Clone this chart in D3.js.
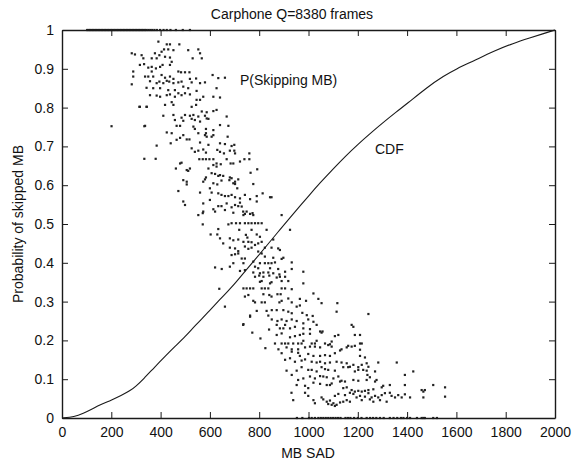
<!DOCTYPE html>
<html>
<head>
<meta charset="utf-8">
<script src="https://cdn.jsdelivr.net/npm/d3@7"></script>
<style>
  html, body { margin: 0; padding: 0; background: #fff; }
  svg { display: block; }
  text { font-family: "Liberation Sans", Arial, Helvetica, sans-serif; fill: #111; }
</style>
</head>
<body>
<svg id="chart" width="581" height="462"></svg>
<script>
// ---------- data ----------
const title = "Carphone Q=8380 frames";
const xLabel = "MB SAD";
const yLabel = "Probability of skipped MB";
const xTicks = [0, 200, 400, 600, 800, 1000, 1200, 1400, 1600, 1800, 2000];
const yTicks = [0, 0.1, 0.2, 0.3, 0.4, 0.5, 0.6, 0.7, 0.8, 0.9, 1];

// CDF curve
const cdfSad  = [0, 50, 87, 120, 154, 200, 240, 276, 300, 330, 377, 420, 458, 500, 540, 600, 641, 682, 702, 740, 783, 830, 877, 925, 970, 1000, 1047, 1100, 1150, 1200, 1250, 1300, 1358, 1400, 1480, 1550, 1600, 1669, 1750, 1831, 1900, 1950, 2000];
const cdfProb = [0, 0.003, 0.012, 0.022, 0.034, 0.046, 0.058, 0.07, 0.082, 0.1, 0.132, 0.16, 0.184, 0.21, 0.238, 0.277, 0.306, 0.333, 0.347, 0.376, 0.408, 0.444, 0.48, 0.516, 0.55, 0.572, 0.606, 0.642, 0.675, 0.705, 0.733, 0.76, 0.79, 0.81, 0.852, 0.882, 0.9, 0.92, 0.945, 0.966, 0.98, 0.99, 1.0];

// P(Skipping MB) samples [MB SAD, probability]
const skipPoints = [
[391,0.97],[425,0.963],[438,0.963],[476,0.963],[414,0.95],[431,0.95],[452,0.948],
[283,0.94],[296,0.937],[323,0.935],[377,0.94],[395,0.935],[404,0.944],[418,0.931],
[512,0.948],[553,0.95],[560,0.94],
[330,0.927],[364,0.927],[384,0.927],[438,0.929],[445,0.918],[530,0.927],[567,0.927],
[316,0.91],[333,0.912],[350,0.903],[364,0.905],[381,0.901],[398,0.905],[408,0.91],[438,0.91],
[289,0.893],[289,0.88],[283,0.86],
[337,0.88],[350,0.88],[364,0.893],[370,0.88],[404,0.884],[418,0.877],[438,0.88],[452,0.874],[472,0.893],[483,0.891],[499,0.891],[517,0.891],
[357,0.868],[384,0.863],[395,0.867],[411,0.863],[425,0.869],[435,0.867],[452,0.863],[472,0.865],[485,0.867],[519,0.874],[526,0.865],[544,0.875],
[560,0.863],[580,0.865],[611,0.884],[634,0.876],[661,0.877],
[343,0.851],[370,0.85],[398,0.85],[431,0.845],[458,0.845],[492,0.854],[512,0.85],[546,0.843],[627,0.85],
[357,0.832],[384,0.831],[398,0.828],[425,0.832],[438,0.834],[458,0.828],[472,0.837],[485,0.832],[499,0.837],[519,0.834],[546,0.82],[560,0.82],[573,0.828],[614,0.828],[641,0.826],
[316,0.802],[343,0.802],[418,0.807],[445,0.814],[452,0.807],
[526,0.802],[544,0.807],[567,0.79],[587,0.788],[614,0.791],[627,0.794],
[411,0.779],[452,0.781],[485,0.774],[499,0.781],[519,0.779],[533,0.781],[553,0.777],[580,0.779],[587,0.772],
[458,0.768],[492,0.766],[526,0.771],[539,0.768],[560,0.764],[594,0.771],[668,0.777],
[337,0.753],[465,0.753],[479,0.753],[533,0.751],[539,0.745],[584,0.745],[641,0.755],[675,0.753],
[425,0.736],[445,0.734],[553,0.734],[584,0.734],[614,0.742],[201,0.752],[334,0.752],[314,0.802],[344,0.802],[384,0.702],[334,0.668],[380,0.668],
[492,0.729],[506,0.718],[517,0.718],[580,0.729],[587,0.725],[607,0.725],[614,0.729],[672,0.725],
[560,0.71],[594,0.704],[641,0.708],[661,0.706],[688,0.701],[699,0.704],
[526,0.695],[539,0.686],[553,0.689],[573,0.692],[584,0.684],[630,0.691],[641,0.686],[657,0.682],[681,0.689],[699,0.689],[702,0.682],[760,0.682],
[557,0.667],[571,0.667],[584,0.667],[598,0.667],[614,0.667],[627,0.656],[644,0.654],[668,0.667],[684,0.656],[695,0.656],[722,0.661],[740,0.667],[760,0.667],
[479,0.656],[485,0.658],
[506,0.639],[512,0.637],[519,0.643],[594,0.643],[614,0.652],[627,0.648],
[607,0.631],[621,0.629],[634,0.624],[641,0.626],[654,0.624],[681,0.62],[702,0.609],[715,0.615],[765,0.632],[792,0.641],
[492,0.613],[506,0.609],[506,0.602],[573,0.609],[580,0.615],[584,0.62],[614,0.605],[630,0.602],[647,0.612],[679,0.613],[688,0.618],[695,0.605],[702,0.603],[711,0.592],[776,0.603],
[560,0.581],[607,0.581],[600,0.592],[634,0.579],[647,0.575],[661,0.572],[675,0.572],[688,0.575],[702,0.569],[722,0.566],[742,0.575],[763,0.564],[790,0.572],[814,0.579],[850,0.569],
[492,0.558],[499,0.549],[573,0.553],[600,0.562],[634,0.546],[647,0.546],[668,0.553],[688,0.543],[702,0.549],[715,0.546],[722,0.555],[729,0.545],[790,0.558],[844,0.569],
[573,0.532],[614,0.538],[621,0.532],[661,0.536],[695,0.529],[735,0.532],[742,0.526],[749,0.532],[763,0.526],[773,0.528],
[479,0.722],[465,0.717],[441,0.708],[462,0.643],[472,0.585],
[553,0.523],[571,0.528],[571,0.499],[675,0.499],[603,0.473],[634,0.487],[630,0.473],[641,0.463],[654,0.45],[681,0.463],[621,0.388],[648,0.384],[638,0.333],
[661,0.287],[735,0.24],[772,0.22],[763,0.261],
[736,0.523],[776,0.523],[891,0.523],
[688,0.502],[706,0.502],[722,0.502],[742,0.502],[756,0.502],[769,0.502],[783,0.502],[796,0.502],[810,0.502],
[719,0.485],[769,0.485],[830,0.485],[925,0.485],
[746,0.472],[752,0.465],[790,0.473],[803,0.467],
[695,0.458],[715,0.46],[736,0.454],[756,0.454],[769,0.453],[783,0.446],[796,0.45],[810,0.454],[857,0.46],
[681,0.439],[702,0.437],[715,0.43],[742,0.442],[756,0.436],[769,0.439],[823,0.439],[850,0.439],[877,0.437],[884,0.433],
[688,0.42],[702,0.422],[715,0.424],[729,0.411],[742,0.411],[796,0.429],[810,0.424],[823,0.416],[857,0.413],[891,0.41],
[695,0.399],[736,0.399],[776,0.403],[803,0.399],[823,0.399],[837,0.399],[850,0.399],[864,0.401],[932,0.401],[898,0.413],
[681,0.39],[783,0.39],[796,0.386],[844,0.386],[877,0.384],[932,0.384],
[722,0.379],[742,0.381],[776,0.375],[803,0.373],[817,0.375],[837,0.375],[857,0.373],[882,0.37],[905,0.377],[979,0.377],
[783,0.364],[800,0.367],[817,0.364],[841,0.367],[871,0.362],[884,0.364],[905,0.364],
[803,0.351],[810,0.353],[844,0.347],[850,0.35],[891,0.353],[918,0.353],[979,0.347],
[736,0.334],[749,0.334],[763,0.334],[776,0.334],[810,0.334],[823,0.334],[837,0.334],[891,0.334],[905,0.334],[932,0.332],
[742,0.313],[756,0.317],[817,0.319],[841,0.317],[850,0.313],[874,0.319],[887,0.319],[918,0.308],[965,0.307],[1020,0.321],
[776,0.302],[783,0.298],[810,0.298],[823,0.298],[882,0.298],[891,0.302],[932,0.298],[952,0.287],[965,0.29],[990,0.302],[1040,0.307],[1053,0.296],[1117,0.296],
[790,0.276],[830,0.276],[763,0.264],[837,0.264],[736,0.242],[805,0.205],[825,0.18],[840,0.228],
[851,0.278],[871,0.278],[898,0.278],[918,0.274],[932,0.27],[975,0.271],[993,0.265],[1017,0.263],[1114,0.274],[1243,0.268],
[851,0.254],[874,0.25],[891,0.254],[911,0.25],[932,0.254],[952,0.25],[979,0.244],[999,0.254],[1020,0.248],[1175,0.24],[1182,0.235],
[871,0.24],[884,0.231],[898,0.231],[905,0.24],[925,0.231],[945,0.235],[979,0.231],[1033,0.24],[1053,0.22],[1006,0.229],
[871,0.214],[891,0.218],[925,0.208],[945,0.211],[965,0.214],[979,0.217],[1006,0.217],[1047,0.223],[1057,0.223],[1107,0.211],[1121,0.214],[1188,0.214],[1209,0.214],
[864,0.192],[891,0.192],[905,0.192],[918,0.192],[938,0.192],[958,0.192],[972,0.192],[979,0.199],[1013,0.192],[1026,0.192],[1033,0.199],[1067,0.192],[1087,0.19],[1094,0.197],[1161,0.186],[1188,0.186],[1209,0.192],[1216,0.192],
[878,0.177],[911,0.182],[932,0.177],[958,0.177],[986,0.182],[1006,0.184],[1026,0.184],[1047,0.182],[1080,0.188],[1094,0.184],[1134,0.177],[1155,0.182],[1175,0.184],[1209,0.176],
[891,0.167],[932,0.171],[958,0.168],[965,0.16],[999,0.165],[1020,0.16],[1047,0.16],[1067,0.162],[1087,0.16],[1107,0.167],[1128,0.174],[1209,0.16],[1229,0.156],[1283,0.143],[1358,0.143],
[905,0.15],[925,0.154],[945,0.145],[972,0.148],[986,0.151],[1013,0.145],[1033,0.143],[1047,0.145],[1067,0.141],[1087,0.143],[1114,0.145],[1134,0.143],[1155,0.141],[1168,0.132],[1182,0.137],[1202,0.131],[1216,0.137],[1236,0.141],[1243,0.132],
[911,0.122],[932,0.111],[952,0.122],[972,0.131],[999,0.124],[1013,0.124],[1033,0.12],[1053,0.131],[1067,0.126],[1080,0.124],[1107,0.122],[1141,0.131],[1161,0.131],[1188,0.12],[1202,0.124],[1222,0.124],[1236,0.122],[1239,0.111],[1270,0.12],
[958,0.098],[979,0.102],[1006,0.107],[1026,0.102],[1047,0.108],[1060,0.107],[1074,0.105],[1101,0.102],[1121,0.107],[1134,0.096],[1148,0.094],[1182,0.098],[1202,0.096],[1236,0.098],[1249,0.105],[1276,0.098],[1391,0.111],[1425,0.12],
[952,0.085],[986,0.083],[999,0.077],[1020,0.091],[1047,0.088],[1074,0.085],[1087,0.085],[1094,0.089],[1128,0.094],[1141,0.077],[1155,0.079],[1175,0.072],[1188,0.068],[1202,0.07],[1216,0.068],[1229,0.07],[1243,0.072],[1263,0.074],[1270,0.094],[1297,0.079],[1303,0.083],[1330,0.085],[1391,0.085],
[931,0.065],[986,0.065],[999,0.057],[1053,0.053],[1107,0.057],[1121,0.062],[1148,0.059],[1168,0.065],[1182,0.062],[1195,0.053],[1209,0.057],[1229,0.055],[1243,0.064],[1256,0.053],[1270,0.057],[1283,0.053],[1297,0.059],[1310,0.064],[1330,0.065],[1337,0.057],[1351,0.053],[1364,0.059],[1378,0.053],[1391,0.061],[1412,0.053],[1459,0.072],[1466,0.068],[1472,0.072],[1506,0.085],[1554,0.079],[1466,0.053],[1554,0.055],
[938,0.046],[1020,0.046],[1060,0.048],[1074,0.042],[1087,0.045],[1101,0.038],[1114,0.034],[1128,0.04],[1141,0.042],[1155,0.046],[1168,0.042],[1216,0.046],[1249,0.048],[1263,0.042],[1290,0.046],[1317,0.042],
[1026,0.038],[1080,0.036],[1094,0.034],[1107,0.031]
];
// samples lying on p = 1 and p = 0
const skipAllSad  = [102,108,114,120,126,132,138,144,150,156,162,168,174,180,186,192,198,204,210,216,222,228,234,240,246,252,258,264,270,276,282,288,294,300,306,312,318,324,330,336,342,350,358,366,375,385,398,412,425,440,462,490,519];
const skipNoneSad = [953,975,1002,1013,1026,1040,1050,1060,1070,1080,1090,1100,1110,1120,1130,1150,1160,1170,1185,1200,1215,1236,1250,1262,1275,1290,1305,1330,1345,1360,1375,1385,1400,1412,1440,1459,1466,1472,1506,1521];

// ---------- chart ----------
const svg = d3.select("#chart");
const x = d3.scaleLinear().domain([0, 2000]).range([62, 555]);
const y = d3.scaleLinear().domain([0, 1]).range([418, 30]);
const ink = "#1a1a1a";
const tickLen = 6;

// scatter
const allPts = skipPoints
  .concat(skipAllSad.map(s => [s, 1]))
  .concat(skipNoneSad.map(s => [s, 0]));
svg.append("g").selectAll("rect").data(allPts).join("rect")
  .attr("x", d => x(d[0]) - 1.1)
  .attr("y", d => y(d[1]) - 1.1)
  .attr("width", 2.2).attr("height", 2.2)
  .attr("fill", "#222");

// CDF line
const cdfData = cdfSad.map((s, i) => [s, cdfProb[i]]);
svg.append("path").datum(cdfData)
  .attr("fill", "none").attr("stroke", ink).attr("stroke-width", 1.1)
  .attr("d", d3.line().x(d => x(d[0])).y(d => y(d[1])).curve(d3.curveBasis));

// axes (inward ticks on all four sides)
const fmt = d => String(d);
const gB = svg.append("g").attr("transform", `translate(0,${y(0)})`)
  .call(d3.axisBottom(x).tickValues(xTicks).tickSizeInner(-tickLen).tickSizeOuter(0).tickPadding(9).tickFormat(fmt));
const gT = svg.append("g").attr("transform", `translate(0,${y(1)})`)
  .call(d3.axisTop(x).tickValues(xTicks).tickSizeInner(-tickLen).tickSizeOuter(0).tickFormat(""));
const gL = svg.append("g").attr("transform", `translate(${x(0)},0)`)
  .call(d3.axisLeft(y).tickValues(yTicks).tickSizeInner(-tickLen).tickSizeOuter(0).tickPadding(8).tickFormat(fmt));
const gR = svg.append("g").attr("transform", `translate(${x(2000)},0)`)
  .call(d3.axisRight(y).tickValues(yTicks).tickSizeInner(-tickLen).tickSizeOuter(0).tickFormat(""));
[gB, gT, gL, gR].forEach(g => {
  g.select(".domain").attr("stroke", ink).attr("stroke-width", 1.4);
  g.selectAll(".tick line").attr("stroke", ink).attr("stroke-width", 1);
  g.selectAll(".tick text").attr("font-size", 14).attr("fill", "#111")
    .attr("font-family", '"Liberation Sans", Arial, sans-serif');
});

// titles and labels
svg.append("text").attr("x", 292).attr("y", 19).attr("text-anchor", "middle")
  .attr("font-size", 14).text(title);
svg.append("text").attr("x", 308).attr("y", 458).attr("text-anchor", "middle")
  .attr("font-size", 14).text(xLabel);
svg.append("text").attr("transform", "translate(23,224) rotate(-90)").attr("text-anchor", "middle")
  .attr("font-size", 14).text(yLabel);

// annotations
svg.append("text").attr("x", 240).attr("y", 85).attr("font-size", 14).text("P(Skipping MB)");
svg.append("text").attr("x", 375).attr("y", 154).attr("font-size", 14).text("CDF");
</script>
</body>
</html>
